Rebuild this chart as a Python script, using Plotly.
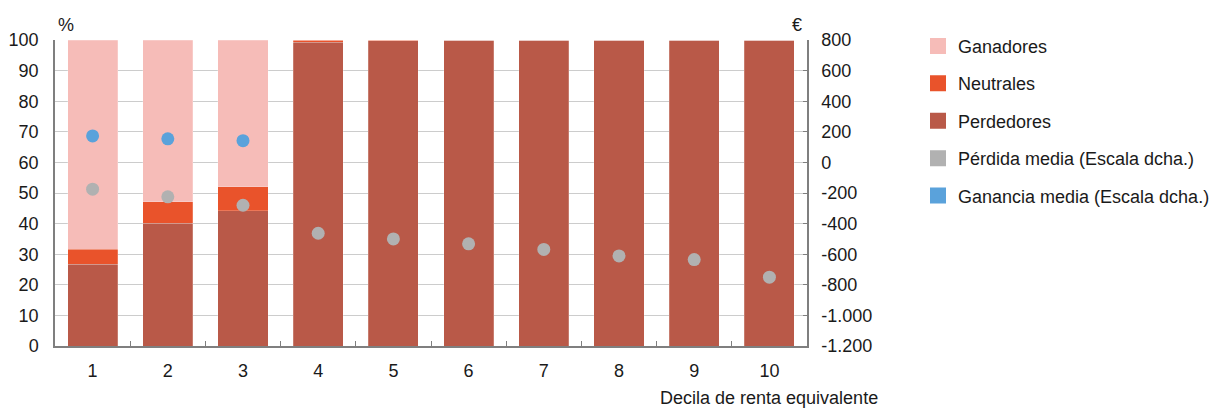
import plotly.graph_objects as go

deciles = ["1", "2", "3", "4", "5", "6", "7", "8", "9", "10"]
perdedores = [26.7, 40.1, 44.2, 99.2, 99.7, 100, 100, 100, 100, 100]
neutrales = [5.0, 7.0, 7.8, 0.8, 0.3, 0, 0, 0, 0, 0]
ganadores = [68.3, 52.9, 48.0, 0, 0, 0, 0, 0, 0, 0]
perdida_media = [-175, -225, -280, -463, -500, -532, -569, -611, -635, -750]
ganancia_media = [173, 154, 142, None, None, None, None, None, None, None]

left_ticks = [0, 10, 20, 30, 40, 50, 60, 70, 80, 90, 100]
right_ticks = [-1200, -1000, -800, -600, -400, -200, 0, 200, 400, 600, 800]
right_labels = ["-1.200", "-1.000", "-800", "-600", "-400", "-200", "0", "200", "400", "600", "800"]

c_gan = "#f6bcb8"
c_neu = "#e9532b"
c_per = "#b95948"
c_grey = "#b1b1b1"
c_blue = "#5aa2db"

FONT = "Liberation Sans, Arial, sans-serif"
FS = 18

# page body has an 8px default margin; compensate
OFF = 8
W, H = 1223 - OFF, 408 - OFF
L, R, T, B = 55 - OFF, 416, 40 - OFF, 62
pw = W - L - R

fig = go.Figure()
line = dict(width=0.6, color="rgba(255,255,255,0.35)")
fig.add_trace(go.Bar(x=deciles, y=perdedores, marker=dict(color=c_per, line=line), showlegend=False))
fig.add_trace(go.Bar(x=deciles, y=neutrales, marker=dict(color=c_neu, line=line), showlegend=False))
fig.add_trace(go.Bar(x=deciles, y=ganadores, marker=dict(color=c_gan, line=line), showlegend=False))
fig.add_trace(go.Scatter(x=deciles, y=perdida_media, yaxis="y2", mode="markers",
                         marker=dict(color=c_grey, size=13), showlegend=False))
fig.add_trace(go.Scatter(x=deciles, y=ganancia_media, yaxis="y2", mode="markers",
                         marker=dict(color=c_blue, size=13), showlegend=False))

legend_items = [("Ganadores", c_gan), ("Neutrales", c_neu), ("Perdedores", c_per),
                ("Pérdida media (Escala dcha.)", c_grey), ("Ganancia media (Escala dcha.)", c_blue)]
for i, (name, col) in enumerate(legend_items):
    fig.add_trace(go.Scatter(x=[None], y=[None], mode="markers", name=name,
                             legendgroup=f"g{i}",
                             marker=dict(symbol="square", size=16, color=col)))

fig.update_layout(
    width=W, height=H,
    margin=dict(l=L, r=R, t=T, b=B, autoexpand=False),
    barmode="stack", bargap=0.334,
    plot_bgcolor="white", paper_bgcolor="white",
    font=dict(family=FONT, size=FS, color="#1a1a1a"),
    xaxis=dict(type="category", showline=True, linecolor="#7f7f7f", linewidth=1.5,
               ticks="inside", tickson="boundaries", ticklen=5, tickcolor="#7f7f7f",
               showgrid=False, range=[-0.5, 9.5], automargin=False,
               ticklabelstandoff=8),
    yaxis=dict(range=[0, 100], tickvals=left_ticks, showline=True, linecolor="#7f7f7f",
               linewidth=1.5, showgrid=True, gridcolor="#cccccc", gridwidth=1.2,
               ticks="", zeroline=False, automargin=False, ticklabelstandoff=11),
    yaxis2=dict(range=[-1200, 800], overlaying="y", side="right", tickvals=right_ticks,
                ticktext=right_labels, showgrid=False, zeroline=False, showline=True,
                linecolor="#7f7f7f", linewidth=1.5, ticks="inside", ticklen=4,
                tickcolor="#7f7f7f", automargin=False, ticklabelstandoff=9),
    legend=dict(x=(918 - 55) / pw, y=1.04, xanchor="left", yanchor="top",
                xref="paper", yref="paper",
                font=dict(size=FS), tracegroupgap=11, itemclick=False,
                bgcolor="rgba(0,0,0,0)"),
    showlegend=True,
)

fig.add_annotation(text="%", xref="paper", yref="paper", x=(56 - 55) / pw, y=1.0,
                   xanchor="left", yanchor="bottom", yshift=3, showarrow=False)
fig.add_annotation(text="€", xref="paper", yref="paper", x=(804 - 55) / pw, y=1.0,
                   xanchor="right", yanchor="bottom", yshift=3, showarrow=False)
fig.add_annotation(text="Decila de renta equivalente", xref="paper", yref="paper",
                   x=(880 - 55) / pw, y=0, xanchor="right", yanchor="top", yshift=-40,
                   showarrow=False)

fig.write_html("out.html")
